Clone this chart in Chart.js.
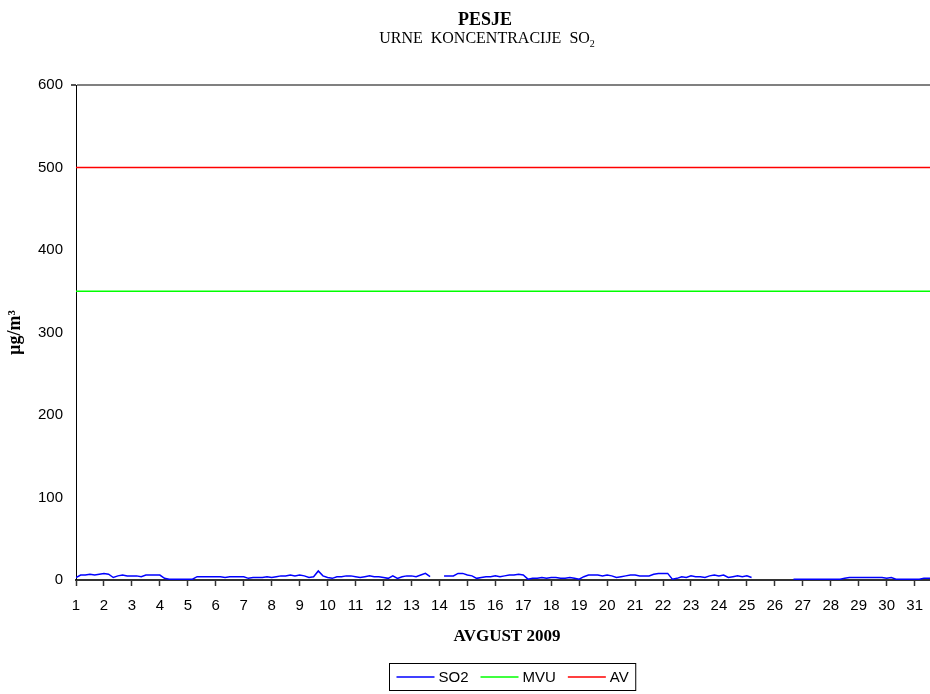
<!DOCTYPE html>
<html>
<head>
<meta charset="utf-8">
<script src="https://cdn.jsdelivr.net/npm/chart.js@4.4.0/dist/chart.umd.min.js"></script>
<style>
  body { margin: 0; background: #fff; }
  #wrap { width: 930px; height: 694px; }
</style>
</head>
<body>
<div id="wrap"><canvas id="so2Chart" width="930" height="694"></canvas></div>
<script>
// day labels on the x axis (August 2009)
var days = [];
for (var d = 1; d <= 31; d++) days.push(d);

// SO2 readings, one every 4 hours (6 per day), null = no measurement
var so2Values = [
  3, 6, 6, 7, 6, 7,        // 1
  8, 7, 3, 5, 6, 5,        // 2
  5, 5, 4, 6, 6, 6,        // 3
  6, 2, 1, 1, 1, 1,        // 4
  1, 1, 4, 4, 4, 4,        // 5
  4, 4, 3, 4, 4, 4,        // 6
  4, 2, 3, 3, 3, 4,        // 7
  3, 4, 5, 5, 6, 5,        // 8
  6, 5, 3, 4, 11, 5,       // 9
  3, 2, 4, 4, 5, 5,        // 10
  4, 3, 4, 5, 4, 4,        // 11
  3, 2, 5, 2, 4, 5,        // 12
  5, 4, 6, 8, 4, null,     // 13
  null, 5, 5, 5, 8, 8,     // 14
  6, 5, 2, 3, 4, 4,        // 15
  5, 4, 5, 6, 6, 7,        // 16
  6, 1, 2, 2, 3, 2,        // 17
  3, 3, 2, 2, 3, 2,        // 18
  1, 4, 6, 6, 6, 5,        // 19
  6, 5, 3, 4, 5, 6,        // 20
  6, 5, 5, 5, 7, 8,        // 21
  8, 8, 1, 2, 4, 3,        // 22
  5, 4, 4, 3, 5, 6,        // 23
  5, 6, 3, 4, 5, 4,        // 24
  5, 3, null, null, null, null, // 25
  null, null, null, null, 1, 1, // 26
  1, 1, 1, 1, 1, 1,        // 27
  1, 1, 1, 2, 3, 3,        // 28
  3, 3, 3, 3, 3, 3,        // 29
  2, 3, 1, 1, 1, 1,        // 30
  1, 1, 2, 2, 2, 2         // 31
];
var perDay = 6;

// limit values
var mvuLimit = [350];  // MVU
var avLimit = [500];   // AV

var yTicks = [0, 100, 200, 300, 400, 500, 600];

// build point lists for the linear x axis
var so2Points = so2Values.map(function(v, i){
  return { x: 1 + i / perDay, y: v };
});
var mvuPoints = so2Values.map(function(v, i){
  return { x: 1 + i / perDay, y: mvuLimit[0] };
});
var avPoints = so2Values.map(function(v, i){
  return { x: 1 + i / perDay, y: avLimit[0] };
});

var serif = '"Liberation Serif", "Times New Roman", serif';
var sans = '"Liberation Sans", Arial, sans-serif';

// titles, x title and the boxed legend are drawn here
var textPlugin = {
  id: 'textPlugin',
  afterDraw: function(chart){
    var ctx = chart.ctx;
    ctx.save();
    ctx.fillStyle = '#000';
    ctx.textBaseline = 'middle';
    ctx.textAlign = 'center';

    ctx.font = 'bold 18px ' + serif;
    ctx.fillText('PESJE', 485, 20);

    // subtitle with subscript 2
    ctx.font = '16px ' + serif;
    var sub = 'URNE  KONCENTRACIJE  SO';
    var w = ctx.measureText(sub).width;
    ctx.font = '10px ' + serif;
    var w2 = ctx.measureText('2').width;
    var sx = 487 - (w + w2) / 2;
    ctx.textAlign = 'left';
    ctx.font = '16px ' + serif;
    ctx.fillText(sub, sx, 39);
    ctx.font = '10px ' + serif;
    ctx.fillText('2', sx + w, 44);

    ctx.textAlign = 'center';
    ctx.font = 'bold 17px ' + serif;
    ctx.fillText('AVGUST 2009', 507, 637);

    // legend
    var items = chart.data.datasets;
    ctx.font = '15px ' + sans;
    var lineLen = 38, gapText = 4, gapItem = 12, pad = 7;
    var total = 0;
    items.forEach(function(ds, i){
      total += lineLen + gapText + ctx.measureText(ds.label).width;
      if (i < items.length - 1) total += gapItem;
    });
    var boxW = total + pad * 2;
    var bx = Math.round(512 - boxW / 2) + 0.5;
    var by = 663.5, bh = 27;
    ctx.strokeStyle = '#000';
    ctx.lineWidth = 1;
    ctx.strokeRect(bx, by, boxW, bh);
    var x = bx + pad;
    var ly = by + bh / 2;
    ctx.textAlign = 'left';
    items.forEach(function(ds){
      ctx.strokeStyle = ds.borderColor;
      ctx.lineWidth = 1.5;
      ctx.beginPath();
      ctx.moveTo(x, ly);
      ctx.lineTo(x + lineLen, ly);
      ctx.stroke();
      x += lineLen + gapText;
      ctx.fillStyle = '#000';
      ctx.fillText(ds.label, x, ly + 1);
      x += ctx.measureText(ds.label).width + gapItem;
    });
    ctx.restore();
  }
};

var ctx = document.getElementById('so2Chart');
var so2Chart = new Chart(ctx, {
  type: 'line',
  data: {
    datasets: [
      { label: 'SO2', data: so2Points, borderColor: '#0000ff', borderWidth: 1.5, pointRadius: 0, spanGaps: false },
      { label: 'MVU', data: mvuPoints, borderColor: '#00ff00', borderWidth: 1.5, pointRadius: 0 },
      { label: 'AV', data: avPoints, borderColor: '#ff0000', borderWidth: 1.5, pointRadius: 0 }
    ]
  },
  options: {
    responsive: false,
    animation: false,
    layout: { padding: { top: 85, right: 0, bottom: 0, left: 0 } },
    plugins: {
      legend: { display: false },
      title: { display: false },
      tooltip: { enabled: false }
    },
    scales: {
      x: {
        type: 'linear',
        min: 1,
        max: 31.55,
        afterFit: function(scale){
          scale.height = 114;
          scale.paddingLeft = 0;
          scale.paddingRight = 0;
        },
        grid: { drawOnChartArea: false, drawTicks: true, tickLength: 6, tickColor: '#333', tickWidth: 1.5 },
        border: { color: '#333', width: 2 },
        ticks: {
          stepSize: 1,
          includeBounds: false,
          autoSkip: false,
          maxRotation: 0,
          padding: 11,
          color: '#000',
          font: { family: sans, size: 15 },
          callback: function(v){ return days.indexOf(v) >= 0 ? String(v) : ''; }
        }
      },
      y: {
        min: 0,
        max: 600,
        afterFit: function(scale){ scale.width = 76; },
        afterBuildTicks: function(scale){
          scale.ticks = yTicks.map(function(v){ return { value: v }; });
        },
        grid: {
          color: function(c){ return c.tick && c.tick.value === 600 ? '#808080' : 'rgba(0,0,0,0)'; },
          lineWidth: function(c){ return c.tick && c.tick.value === 600 ? 2 : 0; },
          tickColor: '#555',
          tickLength: 5
        },
        border: { color: '#000', width: 1 },
        ticks: {
          padding: 8,
          color: '#000',
          font: { family: sans, size: 15 }
        },
        title: {
          display: true,
          text: 'µg/m³',
          color: '#000',
          padding: { top: 5, bottom: 0 },
          font: { family: serif, size: 18, weight: 'bold' }
        }
      }
    }
  },
  plugins: [textPlugin]
});
</script>
</body>
</html>
